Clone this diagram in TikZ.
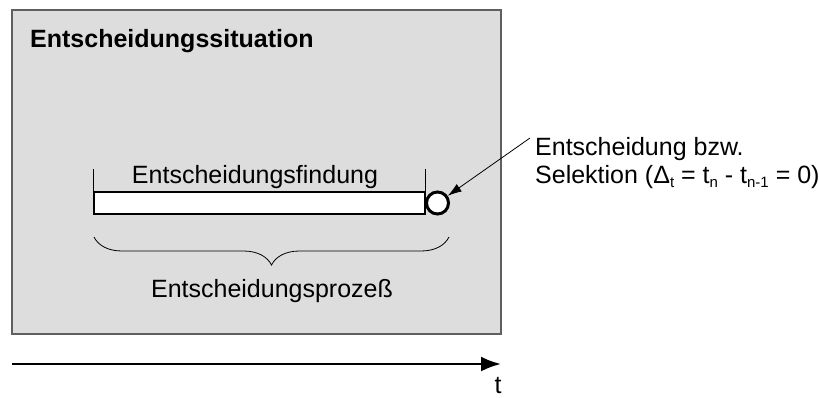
\documentclass[tikz,border=0pt]{standalone}
\usepackage{fontspec}
\setmainfont{Liberation Sans}
\usepackage{tikz}
\usetikzlibrary{decorations.pathreplacing,arrows.meta}
\definecolor{boxgray}{HTML}{DDDDDD}
\definecolor{rimgray}{HTML}{5F5F5F}
% kleiner Index
\newcommand{\idx}[1]{\raisebox{-4pt}{\fontsize{15}{15}\selectfont #1}}

\begin{document}
\begin{tikzpicture}[x=1pt,y=-1pt]
		\tikzset{>=latex}
		\tikzset{lbl/.style={font=\fontsize{25}{28}\selectfont,inner sep=0pt}}
		\useasboundingbox (0,0) rectangle (819,397);
		
		% Entscheidungssituation
		\node[draw=rimgray,line width=1.5pt,fill=boxgray,minimum width=489,minimum height=324,inner sep=0pt] (sit) at (256.5,172) {};
		\node[lbl,font=\fontsize{25}{28}\selectfont\bfseries,anchor=base west] (sittxt) at (30,47) {Entscheidungssituation};
		
		% Findung als Balken
		\node[draw,line width=1.2pt,fill=white,minimum width=331,minimum height=22,inner sep=0pt] (fdg) at (259.5,203) {};
		\draw[line width=0.8pt] (fdg.north west) -- ++(0,-22);
		\draw[line width=0.8pt] (fdg.north east) -- ++(0,-22);
		\node[lbl,anchor=base] (fdgtxt) at (255,183) {Entscheidungsfindung};
		
		% Entscheidung (Zeitpunkt)
		\node[draw,circle,line width=3pt,fill=white,minimum size=22,inner sep=0pt] (sel) at (437.5,203) {};
		\node[lbl,anchor=base west,align=left] (seltxt) at (535,183) {Entscheidung bzw.\\Selektion (Δ\idx{t} = t\idx{n} - t\idx{n-1} = 0)};
		\coordinate (p) at (530,138);
		\draw[-{Latex[length=14pt,width=9pt]},line width=0.8pt] (p) -- (sel);
		
		% Prozess
		\coordinate (b1) at (94,237);
		\coordinate (b2) at (449,237);
		\draw[line width=0.8pt,decorate,decoration={brace,mirror,amplitude=28pt}] (b1) -- (b2);
		\node[lbl,anchor=base] (pztxt) at (272,297) {Entscheidungsprozeß};
		
		% Zeitachse
		\coordinate (t0) at (12,364);
		\coordinate (t1) at (501,364);
		\draw[line width=2.5pt,-{Latex[length=20pt,width=15pt]}] (t0) -- (t1);
		\node[lbl,anchor=base] (ttxt) at (498,393) {t};
		
	\end{tikzpicture}
\end{document}
